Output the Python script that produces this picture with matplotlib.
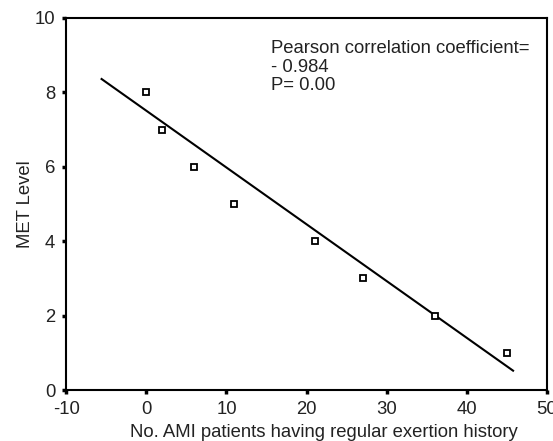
import matplotlib
matplotlib.use('Agg')
import matplotlib.pyplot as plt

# data
n_patients = [0, 2, 6, 11, 21, 27, 36, 45]
met_level = [8, 7, 6, 5, 4, 3, 2, 1]
line_x = [-5.6, 45.8]
line_y = [8.36, 0.52]
x_ticks = [-10, 0, 10, 20, 30, 40, 50]
y_ticks = [0, 2, 4, 6, 8, 10]

plt.rcParams['font.family'] = ['Liberation Sans', 'DejaVu Sans']
plt.rcParams['axes.unicode_minus'] = False

fs = 13.3
fig = plt.figure(figsize=(5.53, 4.41), dpi=100)
ax = fig.add_axes([0.120, 0.1156, 0.8686, 0.8436])

ax.plot(line_x, line_y, color='black', linewidth=1.5)
ax.plot(n_patients, met_level, linestyle='none', marker='s', markersize=5,
        markerfacecolor='white', markeredgecolor='black', markeredgewidth=1.3)

ax.set_xlim(-10, 50)
ax.set_ylim(0, 10)
ax.set_xticks(x_ticks)
ax.set_yticks(y_ticks)
ax.tick_params(direction='out', length=3, width=2.5, labelsize=fs, pad=5,
               labelcolor='#222222')
for s in ax.spines.values():
    s.set_linewidth(1.5)

ax.set_ylabel('MET Level', fontsize=fs, color='#222222')
ax.yaxis.set_label_coords(-0.068, 0.5)
fig.text(0.586, 0.0204, 'No. AMI patients having regular exertion history',
         ha='center', va='center', fontsize=fs, color='#222222')

ax.text(0.425, 0.94, 'Pearson correlation coefficient=\n- 0.984\nP= 0.00',
        transform=ax.transAxes, ha='left', va='top', fontsize=fs,
        linespacing=1.12, color='#222222')

fig.savefig('out.png', dpi=100)
